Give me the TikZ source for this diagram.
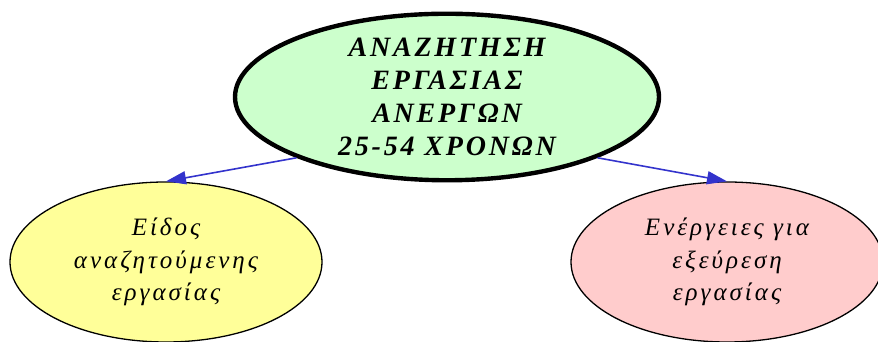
\documentclass[tikz,border=0pt]{standalone}
\usepackage{fontspec}
\setmainfont{Liberation Serif}
\newfontfamily\grkhead[LetterSpace=10]{Liberation Serif}
\newfontfamily\grkleaf[LetterSpace=12]{Liberation Serif}
\usepackage{xcolor}
\usepackage{tikz}
\usetikzlibrary{shapes.geometric, arrows.meta}
\definecolor{topgreen}{HTML}{CCFFCC}
\definecolor{leafyellow}{HTML}{FFFF99}
\definecolor{leafpink}{HTML}{FFCCCC}
\definecolor{edgeblue}{HTML}{3333CC}
\tikzset{
  rootblk/.style={ellipse, draw, line width=4.4pt, fill=topgreen, inner sep=0pt,
                  minimum width=424pt, minimum height=164pt, align=center,
                  font=\grkhead\bfseries\itshape\fontsize{28}{33}\selectfont},
  leafblk/.style={ellipse, draw, line width=1.3pt, inner sep=0pt,
                  minimum width=312pt, minimum height=160pt, align=center,
                  font=\grkleaf\itshape\fontsize{25}{32.5}\selectfont},
  flow/.style={-{Triangle[length=20pt, width=13pt]}, line width=1.6pt, draw=edgeblue, fill=edgeblue}
}

\begin{document}
\begin{tikzpicture}[x=1pt, y=1pt]
  \useasboundingbox (0,0) rectangle (878,342);
  \node[rootblk] (root) at (447,245) {ΑΝΑΖΗΤΗΣΗ\\ΕΡΓΑΣΙΑΣ\\ΑΝΕΡΓΩΝ\\25-54 ΧΡΟΝΩΝ};
  \node[leafblk, fill=leafyellow] (kind) at (166,80) {Είδος\\αναζητούμενης\\εργασίας};
  \node[leafblk, fill=leafpink] (acts) at (727,80) {Ενέργειες για\\εξεύρεση\\εργασίας};
  \draw[flow] (root.202) -- (kind.north);
  \draw[flow] (root.338) -- (acts.north);
\end{tikzpicture}
\end{document}
